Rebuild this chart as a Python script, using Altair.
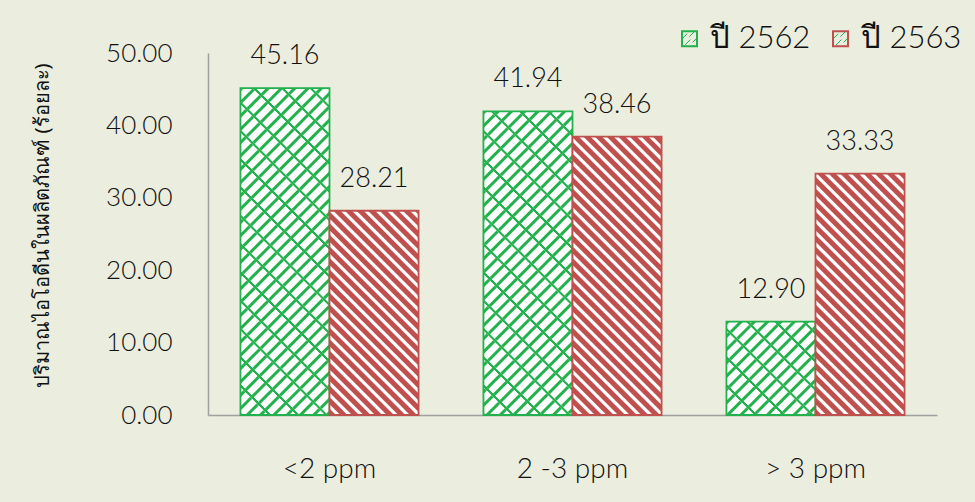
import math
import altair as alt
import pandas as pd

# ---------------- data ----------------
categories = ["<2 ppm", "2 -3 ppm", "> 3 ppm"]
years = ["ปี 2562", "ปี 2563"]
values_2562 = [45.16, 41.94, 12.90]
values_2563 = [28.21, 38.46, 33.33]

# ---------------- style ----------------
GREEN = "#22B14C"
RED = "#C0504D"
BG = "#EBEDDE"
AXIS = "#A0A0A0"
TXT = "#111111"
FONT = "Lato"
FW = 300

W, H = 729, 362
Y_MAX = 50
PAD_INNER = 0.267
STEP = W / len(categories)
BAR_W = STEP * (1 - PAD_INNER) / 2

rows = []
for c, a, b in zip(categories, values_2562, values_2563):
    rows.append({"cat": c, "year": years[0], "value": a})
    rows.append({"cat": c, "year": years[1], "value": b})
df = pd.DataFrame(rows)


def stripe_gradient(value, direction, period, lw, soft, c_line, c_bg):
    """Linear gradient imitating a 45deg hatch on a bar of given value."""
    w = BAR_W
    h = max(value / Y_MAX * H, 1.0)
    s2 = w * w + h * h
    D = (w + h) / math.sqrt(2)
    if direction == "back":  # '\' lines
        x1, y1 = 0.0, 1.0
        x2, y2 = w * (w + h) / s2, 1.0 - h * (w + h) / s2
    else:  # '/' lines
        x1, y1 = 0.0, 0.0
        x2, y2 = w * (w + h) / s2, h * (w + h) / s2
    pts = []
    k = 0
    while k * period <= D + period:
        a = k * period
        pts += [(a, c_line), (a + lw, c_line), (a + lw + soft, c_bg), (a + period - soft, c_bg)]
        k += 1
    stops = []
    last = -1
    for off, col in pts:
        o = min(max(off / D, 0.0), 1.0)
        o = round(o, 5)
        if o < last:
            o = last
        stops.append({"offset": o, "color": col})
        last = o
        if o >= 1.0:
            break
    return {"gradient": "linear", "x1": x1, "y1": y1, "x2": round(x2, 5), "y2": round(y2, 5),
            "stops": stops}


base = alt.Chart(df).encode(
    x=alt.X(
        "cat:N",
        sort=categories,
        title=None,
        scale=alt.Scale(paddingInner=PAD_INNER, paddingOuter=PAD_INNER / 2),
        axis=alt.Axis(labelAngle=0, labelFontSize=28, labelFont=FONT, labelFontWeight=FW,
                      labelColor=TXT, labelBaseline="alphabetic", labelPadding=62,
                      ticks=False, domainColor=AXIS, domainWidth=1.5),
    ),
    xOffset=alt.XOffset("year:N", sort=years, scale=alt.Scale(paddingInner=0, paddingOuter=0)),
    y=alt.Y(
        "value:Q",
        scale=alt.Scale(domain=[0, Y_MAX], nice=False),
        title="ปริมาณไอโอดีนในผลิตภัณฑ์ (ร้อยละ)",
        axis=alt.Axis(values=[0, 10, 20, 30, 40, 50], format=".2f", grid=False, ticks=False,
                      labelFontSize=26, labelFont=FONT, labelFontWeight=FW, labelColor=TXT,
                      labelPadding=36, domainColor=AXIS, domainWidth=1.5,
                      titleFontSize=20, titleFont="Noto Sans", titleFontWeight="normal",
                      titleColor=TXT, titlePadding=53, titleY=172),
    ),
)

stroke_enc = alt.Stroke(
    "year:N",
    scale=alt.Scale(domain=years, range=[GREEN, RED]),
    legend=alt.Legend(
        title=None, orient="none", legendX=466, legendY=-30, direction="horizontal",
        symbolType="square", symbolSize=225, symbolStrokeWidth=2, symbolFillColor="white",
        labelFontSize=31, labelFont=FONT, labelFontWeight=FW, labelColor=TXT,
        labelOffset=5, columnPadding=14,
    ),
)

layers = []
for c, v in zip(categories, values_2562):
    flt = f"datum.cat === '{c}' && datum.year === '{years[0]}'"
    g1 = stripe_gradient(v, "fwd", 9.4, 2.0, 1.0, GREEN, "#FFFFFF")
    g2 = stripe_gradient(v, "back", 20.0, 1.6, 0.8, GREEN, "rgba(255,255,255,0)")
    layers.append(base.transform_filter(flt).mark_bar(fill=g1, strokeWidth=0))
    layers.append(base.transform_filter(flt).mark_bar(fill=g2, strokeWidth=1.8).encode(stroke=stroke_enc))
for c, v in zip(categories, values_2563):
    flt = f"datum.cat === '{c}' && datum.year === '{years[1]}'"
    g = stripe_gradient(v, "back", 8.2, 4.0, 1.0, RED, "#FFFFFF")
    layers.append(base.transform_filter(flt).mark_bar(fill=g, strokeWidth=1.8).encode(stroke=stroke_enc))

labels = base.mark_text(fontSize=27, font=FONT, fontWeight=FW, color=TXT,
                        baseline="alphabetic", dy=-24).encode(
    text=alt.Text("value:Q", format=".2f")
)
layers.append(labels)

chart = alt.layer(*layers).properties(
    width=W, height=H,
    background=BG,
    padding={"left": 208, "top": 53, "right": 38, "bottom": 87},
    autosize=alt.AutoSizeParams(type="none"),
).configure_view(stroke=None)

chart.save("out.html", embed_options={"renderer": "svg", "actions": False})
